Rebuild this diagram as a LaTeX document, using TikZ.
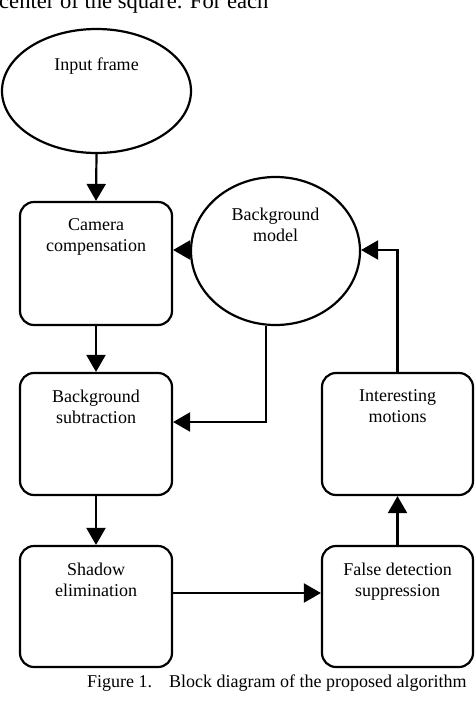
\documentclass[tikz,border=0pt]{standalone}
\usepackage{fontspec}
\setmainfont{Liberation Serif}
\usetikzlibrary{shapes.geometric,arrows.meta}
\begin{document}
\begin{tikzpicture}[x=1pt,y=-1pt,
  lw/.style={line width=2.2pt},
  oval/.style={lw,draw,ellipse,inner sep=0pt},
  blk/.style={lw,draw,rounded corners=14pt,inner sep=0pt,minimum width=152pt},
  lbl/.style={inner sep=0pt,anchor=north,align=center,font=\fontsize{18}{21}\selectfont},
  arr/.style={lw,-{Triangle[length=17pt,width=19pt]}}]
\useasboundingbox (0,0) rectangle (474,701);
% top text (cut off)
\node[inner sep=0pt,anchor=base west,font=\fontsize{22.6}{26}\selectfont] (toptxt) at (-1,9) {center of the square. For each};
% nodes
\node[oval,minimum width=189pt,minimum height=124pt] (inp) at (96.5,91) {};
\node[lbl] (inpt) at ([yshift=-29.5pt]inp.north) {Input frame};
\node[oval,minimum width=169pt,minimum height=148pt] (bgm) at (275.5,251) {};
\node[lbl] (bgmt) at ([yshift=-31.5pt]bgm.north) {Background\\model};
\node[blk,minimum height=123pt] (cam) at (96,263.5) {};
\node[lbl] (camt) at ([yshift=-17.5pt]cam.north) {Camera\\compensation};
\node[blk,minimum height=122pt] (sub) at (96,434) {};
\node[lbl] (subt) at ([yshift=-17.5pt]sub.north) {Background\\subtraction};
\node[blk,minimum height=121pt] (sha) at (96,606.5) {};
\node[lbl] (shat) at ([yshift=-17.5pt]sha.north) {Shadow\\elimination};
\node[blk,minimum width=151pt,minimum height=122pt] (int) at (397.5,434) {};
\node[lbl] (intt) at ([yshift=-17.5pt]int.north) {Interesting\\motions};
\node[blk,minimum width=151pt,minimum height=121pt] (fal) at (397.5,606.5) {};
\node[lbl] (falt) at ([yshift=-17.5pt]fal.north) {False detection\\suppression};
% connectors
\draw[arr] (inp.south) -- (cam.north);
\draw[arr] ([yshift=1pt]bgm.west) -- ([yshift=1pt]bgm.west -| cam.east);
\draw[arr] (cam.south) -- (sub.north);
\draw[arr] ([xshift=-9.5pt,yshift=0.5pt]bgm.south) |- ([yshift=12pt]sub.east);
\draw[arr] (sub.south) -- (sha.north);
\draw[arr] ([yshift=13.5pt]sha.east) -- ([yshift=13.5pt]fal.west);
\draw[arr] (fal.north) -- (int.south);
\draw[arr] (int.north) |- ([yshift=1pt]bgm.east);
% caption
\node[inner sep=0pt,anchor=base west,font=\fontsize{18}{21}\selectfont] (cap) at (87,687.5) {Figure 1.\hspace{11pt} Block diagram of the proposed algorithm};
\end{tikzpicture}
\end{document}
